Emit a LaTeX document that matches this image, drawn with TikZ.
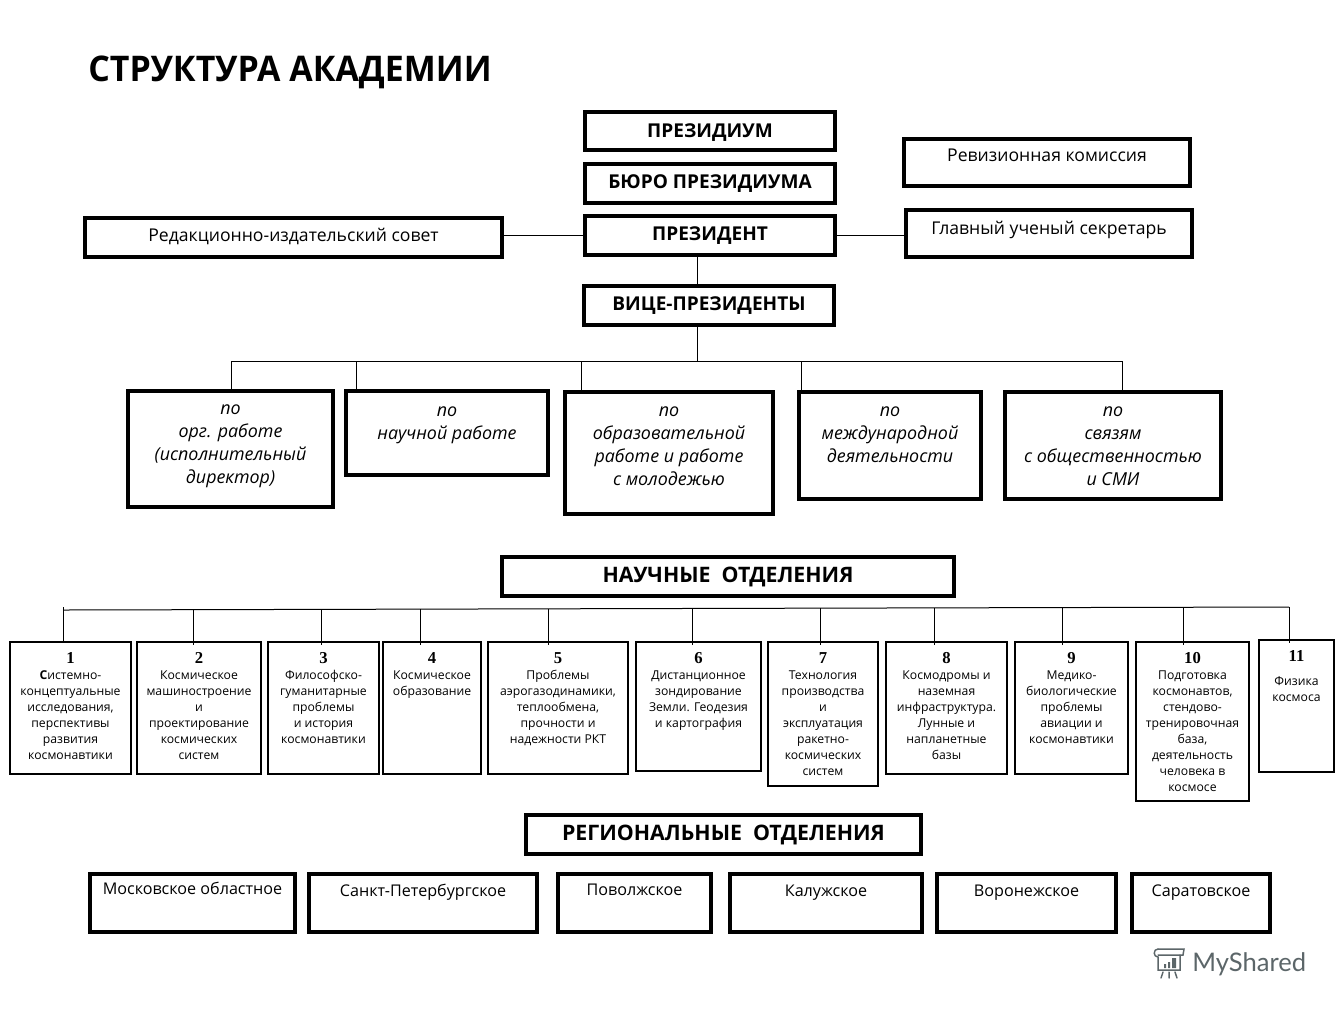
\documentclass[tikz,border=0pt]{standalone}
\usepackage{fontspec}
\usepackage{graphicx}
\setmainfont{Open Sans}
\newfontfamily\numfont{Liberation Serif}
\newfontfamily\wmfont{Lato}
\usetikzlibrary{calc}
\definecolor{wm}{HTML}{5C6669}
\tikzset{
  x=0.75pt,y=-0.75pt,
  base/.style={draw=black,inner sep=0pt,outer sep=0pt,text=black,rectangle},
  thickbox/.style={base,line width=2.3pt},
  headbox/.style={thickbox,font=\fontsize{14.3}{15}\selectfont\bfseries},
  plainbox/.style={thickbox,font=\fontsize{13.2}{15}\selectfont},
  regbox/.style={thickbox,font=\fontsize{12.1}{15}\selectfont},
  vicebox/.style={thickbox,font=\fontsize{13.4}{17.4}\selectfont\itshape},
  sectbox/.style={thickbox,font=\fontsize{16}{17}\selectfont\bfseries},
  deptbox/.style={base,line width=0.8pt,font=\fontsize{9.15}{12}\selectfont},
  wire/.style={draw=black,line width=0.75pt},
  overrun/.style={wire,shorten >=-2.2pt},
  wmline/.style={draw=wm,line width=1.1pt,line cap=round},
}
\newcommand{\bx}[8]{%
  \pgfmathsetmacro\cxx{(#3+#5)/2}\pgfmathsetmacro\cyy{(#4+#6)/2}%
  \pgfmathsetmacro\ww{(#5-#3)*0.75}\pgfmathsetmacro\hh{(#6-#4)*0.75}%
  \pgfmathsetmacro\off{#7*0.75}%
  \node[#1] (#2) at (\cxx,\cyy) {\parbox[c][\hh pt][t]{\ww pt}{\centering\vspace*{\off pt}\strut #8}};%
}
\newcommand{\nm}[1]{{\fontsize{12.5}{13}\selectfont\numfont\bfseries #1}\\}
\begin{document}
\begin{tikzpicture}
\useasboundingbox (0,0) rectangle (1344,1008);
\node[anchor=west,inner sep=0pt,font=\fontsize{26.5}{32}\selectfont\bfseries] (title) at (88,72) {\scalebox{0.96}[1]{СТРУКТУРА АКАДЕМИИ}};

\bx{headbox}{prez}{585}{112}{835}{150}{11}{ПРЕЗИДИУМ}
\bx{headbox}{buro}{585}{164}{835}{203}{10}{БЮРО ПРЕЗИДИУМА}
\bx{headbox}{pres}{585}{216}{835}{255}{10}{ПРЕЗИДЕНТ}
\bx{headbox}{vice}{584}{286}{834}{325}{10}{ВИЦЕ-ПРЕЗИДЕНТЫ}
\bx{plainbox}{rev}{904}{139}{1190}{186}{8}{Ревизионная комиссия}
\bx{plainbox}{sec}{906}{210}{1192}{257}{10}{Главный ученый секретарь}
\bx{plainbox}{red}{85}{218}{502}{257}{9}{Редакционно-издательский совет}

\draw[wire] (red.east |- pres.west) -- (pres.west);
\draw[wire] (pres.east) -- (sec.west |- pres.east);
\coordinate (trunk) at (697,255);
\coordinate (trunkb) at (697,361);
\draw[wire] (trunk) -- (trunk |- vice.north);
\draw[wire] (trunk |- vice.south) -- (trunkb);

\bx{vicebox}{v1}{128}{391}{333}{507}{7}{по\\орг. работе\\(исполнительный\\директор)}
\bx{vicebox}{v2}{346}{391}{548}{475}{9}{по\\научной работе}
\bx{vicebox}{v3}{565}{392}{773}{514}{8}{по\\образовательной\\работе и работе\\с молодежью}
\bx{vicebox}{v4}{799}{392}{981}{499}{8}{по\\международной\\деятельности}
\bx{vicebox}{v5}{1005}{392}{1221}{499}{8}{по\\связям\\с общественностью\\и СМИ}

\coordinate (vl) at (231,361);
\coordinate (vr) at (1122,361);
\draw[wire] (vl) -- (vr);
\coordinate (vb2) at (356,361);
\coordinate (vb3) at (581,361);
\coordinate (vb4) at (801,361);
\draw[wire] (vl) -- (vl |- v1.north);
\draw[wire] (vb2) -- (vb2 |- v2.north);
\draw[wire] (vb3) -- (vb3 |- v3.north);
\draw[wire] (vb4) -- (vb4 |- v4.north);
\draw[wire] (vr) -- (vr |- v5.north);

\bx{sectbox}{sci}{502}{557}{954}{596}{10}{НАУЧНЫЕ~~ОТДЕЛЕНИЯ}
\bx{sectbox}{reg}{526}{815}{921}{854}{10}{РЕГИОНАЛЬНЫЕ~~ОТДЕЛЕНИЯ}

\bx{deptbox}{d1}{10}{642}{131}{774}{10}{\nm{1}{\bfseries С}истемно-\\концептуальные\\исследования,\\перспективы\\развития\\космонавтики}
\bx{deptbox}{d2}{137}{642}{261}{774}{10}{\nm{2}Космическое\\машиностроение\\и\\проектирование\\космических\\систем}
\bx{deptbox}{d3}{268}{642}{379}{774}{10}{\nm{3}Философско-\\гуманитарные\\проблемы\\и история\\космонавтики}
\bx{deptbox}{d4}{383}{642}{481}{774}{10}{\nm{4}Космическое\\образование}
\bx{deptbox}{d5}{488}{642}{628}{774}{10}{\nm{5}Проблемы\\аэрогазодинамики,\\теплообмена,\\прочности и\\надежности РКТ}
\bx{deptbox}{d6}{636}{642}{761}{771}{10}{\nm{6}Дистанционное\\зондирование\\Земли. Геодезия\\и картография}
\bx{deptbox}{d7}{768}{642}{878}{786}{10}{\nm{7}Технология\\производства\\и\\эксплуатация\\ракетно-\\космических\\систем}
\bx{deptbox}{d8}{886}{642}{1007}{774}{10}{\nm{8}Космодромы и\\наземная\\инфраструктура.\\Лунные и\\напланетные\\базы}
\bx{deptbox}{d9}{1015}{642}{1128}{774}{10}{\nm{9}Медико-\\биологические\\проблемы\\авиации и\\космонавтики}
\bx{deptbox}{d10}{1136}{642}{1249}{801}{10}{\nm{10}Подготовка\\космонавтов,\\стендово-\\тренировочная\\база,\\деятельность\\человека в\\космосе}
\bx{deptbox}{d11}{1259}{640}{1334}{772}{10}{{\fontsize{12.5}{13}\selectfont\numfont\bfseries 11}\\[6pt]Физика\\космоса}

\coordinate (s1) at (63,610);
\coordinate (s2) at (193,609.7);
\coordinate (s3) at (321,609.4);
\coordinate (s4) at (420,609.1);
\coordinate (s5) at (548,608.9);
\coordinate (s6) at (692,608.5);
\coordinate (s7) at (820,608.2);
\coordinate (s8) at (934,607.9);
\coordinate (s9) at (1062,607.6);
\coordinate (s10) at (1183,607.3);
\coordinate (s11) at (1289,607);
\draw[wire] (s1) -- (s11);
\draw[wire,shorten <=-2pt] (s1) -- (s1 |- d1.north);
\draw[overrun] (s2) -- (s2 |- d2.north);
\draw[overrun] (s3) -- (s3 |- d3.north);
\draw[overrun] (s4) -- (s4 |- d4.north);
\draw[overrun] (s5) -- (s5 |- d5.north);
\draw[overrun] (s6) -- (s6 |- d6.north);
\draw[overrun] (s7) -- (s7 |- d7.north);
\draw[overrun] (s8) -- (s8 |- d8.north);
\draw[overrun] (s9) -- (s9 |- d9.north);
\draw[overrun] (s10) -- (s10 |- d10.north);
\draw[overrun] (s11) -- (s11 |- d11.north);

\bx{regbox}{r1}{90}{874}{295}{932}{6}{Московское областное}
\bx{regbox}{r2}{309}{874}{537}{932}{8}{Санкт-Петербургское}
\bx{regbox}{r3}{558}{874}{711}{932}{7}{Поволжское}
\bx{regbox}{r4}{730}{874}{922}{932}{8}{Калужское}
\bx{regbox}{r5}{937}{874}{1116}{932}{8}{Воронежское}
\bx{regbox}{r6}{1132}{874}{1270}{932}{8}{Саратовское}

% watermark
\node[anchor=west,inner sep=0pt,text=wm,font=\fontsize{19.2}{24}\selectfont\wmfont] (wmk) at (1192,964) {MyShared};
\draw[wmline] (1158,949) -- (1184,949) -- (1183,955) -- (1158,955);
\draw[wmline] (1158,949) .. controls (1153,949) and (1153,957) .. (1158,957) -- (1158,970) -- (1180,970) -- (1180,955);
\fill[wm] (1164,964) rectangle (1166,968) (1168,962) rectangle (1170,968) (1172,958) rectangle (1176,968);
\draw[wmline] (1163,972) -- (1161,978) (1169,972) -- (1169,978) (1175,972) -- (1177,978);
\end{tikzpicture}
\end{document}
